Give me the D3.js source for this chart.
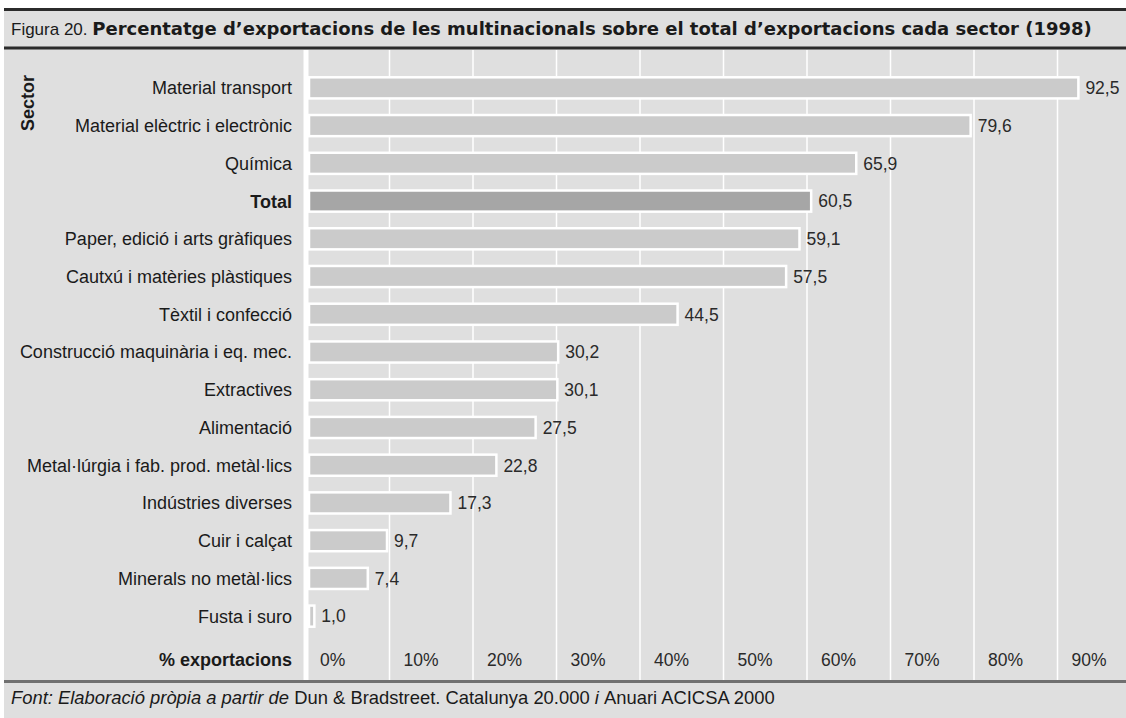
<!DOCTYPE html>
<html>
<head>
<meta charset="utf-8">
<script src="https://cdn.jsdelivr.net/npm/d3@7"></script>
<style>
  body { margin: 0; background: #fff; }
  svg { display: block; font-family: "Liberation Sans", Arial, Helvetica, sans-serif; }
</style>
</head>
<body>
<div id="chart"></div>
<script>
// data
const sectors = [
  "Material transport",
  "Material elèctric i electrònic",
  "Química",
  "Total",
  "Paper, edició i arts gràfiques",
  "Cautxú i matèries plàstiques",
  "Tèxtil i confecció",
  "Construcció maquinària i eq. mec.",
  "Extractives",
  "Alimentació",
  "Metal·lúrgia i fab. prod. metàl·lics",
  "Indústries diverses",
  "Cuir i calçat",
  "Minerals no metàl·lics",
  "Fusta i suro"
];
const shares = [92.5, 79.6, 65.9, 60.5, 59.1, 57.5, 44.5, 30.2, 30.1, 27.5, 22.8, 17.3, 9.7, 7.4, 1.0];
const ticks = [0, 10, 20, 30, 40, 50, 60, 70, 80, 90];

const W = 1126, H = 718;
const bg = "#dfdfdf";
const fs = 18;

const svg = d3.select("#chart").append("svg")
  .attr("width", W)
  .attr("height", H);

// panel background
svg.append("rect")
  .attr("x", 4).attr("y", 9)
  .attr("width", W - 4).attr("height", H - 9)
  .attr("fill", bg);

// title band
svg.append("line")
  .attr("x1", 4).attr("x2", W).attr("y1", 9.5).attr("y2", 9.5)
  .attr("stroke", "#2b2b2b").attr("stroke-width", 3);
svg.append("line")
  .attr("x1", 4).attr("x2", W).attr("y1", 48).attr("y2", 48)
  .attr("stroke", "#2b2b2b").attr("stroke-width", 3);

const title = svg.append("text")
  .attr("x", 11).attr("y", 35)
  .attr("font-size", 17)
  .attr("fill", "#1a1a1a");
title.append("tspan").text("Figura 20. ");
title.append("tspan")
  .attr("font-family", "'DejaVu Sans', sans-serif")
  .attr("font-weight", "bold")
  .attr("font-size", 18)
  .text("Percentatge d’exportacions de les multinacionals sobre el total d’exportacions cada sector (1998)");

// scales
const plotTop = 50, plotBottom = 680;
const x = d3.scaleLinear().domain([0, 100]).range([306, 1141]);
const y = d3.scaleBand().domain(sectors).range([69, 635]).paddingInner(0.44).paddingOuter(0.22);

// gridlines
svg.append("g")
  .selectAll("line")
  .data(ticks.slice(1))
  .join("line")
  .attr("x1", d => x(d)).attr("x2", d => x(d))
  .attr("y1", plotTop).attr("y2", plotBottom)
  .attr("stroke", "#fff").attr("stroke-width", 1.5);

// axis line (white)
svg.append("line")
  .attr("x1", x(0)).attr("x2", x(0))
  .attr("y1", plotTop).attr("y2", plotBottom)
  .attr("stroke", "#fff").attr("stroke-width", 5);

// bars
const rows = sectors.map((s, i) => ({ sector: s, value: shares[i] }));

svg.append("g")
  .selectAll("rect")
  .data(rows)
  .join("rect")
  .attr("x", x(0) + 3)
  .attr("y", d => y(d.sector))
  .attr("width", d => x(d.value) - x(0) - 3)
  .attr("height", y.bandwidth())
  .attr("fill", d => d.sector === "Total" ? "#a6a6a6" : "#cbcbcb")
  .attr("stroke", "#fff")
  .attr("stroke-width", 2.5);

// value labels
svg.append("g")
  .selectAll("text")
  .data(rows)
  .join("text")
  .attr("x", d => x(d.value) + 7)
  .attr("y", d => y(d.sector) + y.bandwidth() / 2)
  .attr("dy", "0.36em")
  .attr("font-size", 17.5)
  .attr("fill", "#2a2a2a")
  .text(d => d.value.toFixed(1).replace(".", ","));

// category labels
svg.append("g")
  .selectAll("text")
  .data(rows)
  .join("text")
  .attr("x", 292)
  .attr("y", d => y(d.sector) + y.bandwidth() / 2)
  .attr("dy", "0.36em")
  .attr("text-anchor", "end")
  .attr("font-size", fs)
  .attr("font-weight", d => d.sector === "Total" ? "bold" : "normal")
  .attr("fill", "#1a1a1a")
  .text(d => d.sector);

// axis title "Sector"
svg.append("text")
  .attr("transform", "translate(34,103) rotate(-90)")
  .attr("text-anchor", "middle")
  .attr("font-size", fs)
  .attr("font-weight", "bold")
  .attr("fill", "#1a1a1a")
  .text("Sector");

// tick labels
const tickY = 660;
svg.append("g")
  .selectAll("text")
  .data(ticks)
  .join("text")
  .attr("x", d => x(d) + 14)
  .attr("y", tickY)
  .attr("dy", "0.36em")
  .attr("font-size", 17.5)
  .attr("fill", "#2a2a2a")
  .text(d => d + "%");

svg.append("text")
  .attr("x", 292).attr("y", tickY)
  .attr("dy", "0.36em")
  .attr("text-anchor", "end")
  .attr("font-size", 18)
  .attr("font-weight", "bold")
  .attr("fill", "#1a1a1a")
  .text("% exportacions");

// bottom rule
svg.append("line")
  .attr("x1", 4).attr("x2", W).attr("y1", 681.5).attr("y2", 681.5)
  .attr("stroke", "#707070").attr("stroke-width", 3);

// source note
const note = svg.append("text")
  .attr("x", 11).attr("y", 704)
  .attr("font-size", 18.4)
  .attr("fill", "#1a1a1a");
note.append("tspan").attr("font-style", "italic").text("Font: Elaboració pròpia a partir de ");
note.append("tspan").text("Dun & Bradstreet. Catalunya 20.000 ");
note.append("tspan").attr("font-style", "italic").text("i ");
note.append("tspan").text("Anuari ACICSA 2000");
</script>
</body>
</html>
